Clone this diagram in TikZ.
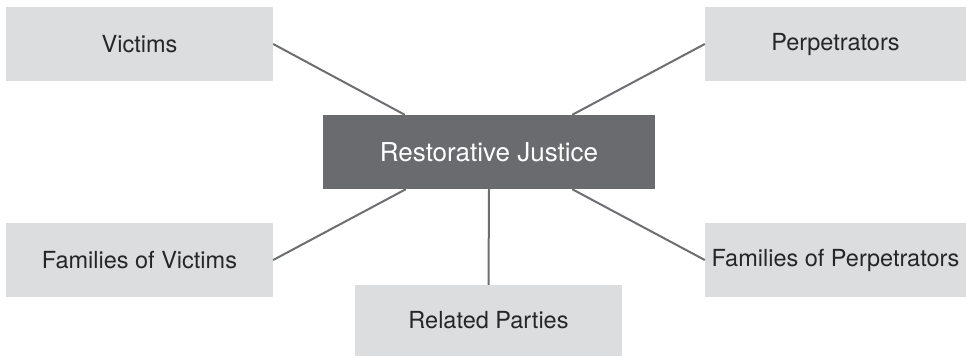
\documentclass[tikz,border=0pt]{standalone}
\usepackage{fontspec}
\setmainfont{TeX Gyre Heros}
\definecolor{boxlight}{HTML}{DCDDDE}
\definecolor{boxdark}{HTML}{6A6B6F}
\definecolor{linkgray}{HTML}{6D6E71}
\begin{document}
\begin{tikzpicture}[x=1pt,y=-1pt,
  lightbox/.style={fill=boxlight,draw=none,inner sep=0pt,minimum width=267pt,minimum height=74pt,font=\fontsize{23.5}{28}\selectfont,text=black!85},
  darkbox/.style={fill=boxdark,draw=none,inner sep=0pt,minimum width=332pt,minimum height=74pt,font=\fontsize{26}{31}\selectfont,text=white},
  link/.style={draw=linkgray,line width=2pt}]
\useasboundingbox (0,0) rectangle (966,357);
\node[darkbox] (rj) at (489,152) {Restorative Justice};
\node[lightbox] (v) at (139.5,44) {Victims};
\node[lightbox,minimum width=261pt] (p) at (835.5,44) {Perpetrators};
\node[lightbox] (fv) at (139.5,260) {Families of Victims};
\node[lightbox,minimum width=261pt] (fp) at (835.5,260) {Families of Perpetrators};
\node[lightbox,minimum height=71pt] (rp) at (488.5,320.5) {Related Parties};
\draw[link] (v.east) -- ([xshift=82pt]rj.north west);
\draw[link] (p.west) -- ([xshift=-83pt]rj.north east);
\draw[link] (fv.east) -- ([xshift=83pt]rj.south west);
\draw[link] (fp.west) -- ([xshift=-83pt]rj.south east);
\draw[link] (rj.south) -- (rp.north);
\end{tikzpicture}
\end{document}
